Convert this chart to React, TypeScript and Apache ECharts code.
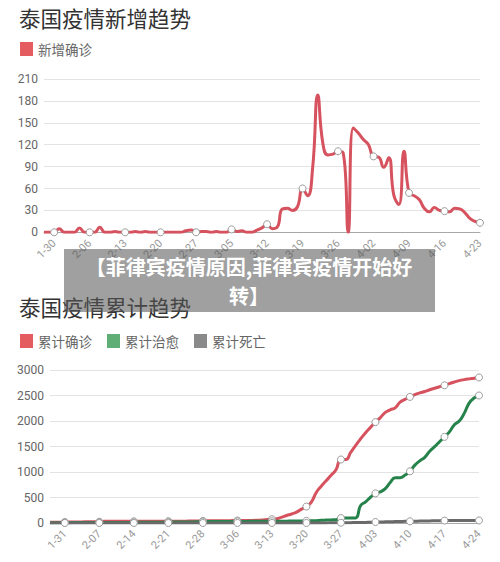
import React, { useEffect, useRef } from "react";
import * as echarts from "echarts";

// ---------- Data ----------
const datesNew = [
  "1-28","1-29","1-30","1-31",
  "2-01","2-02","2-03","2-04","2-05","2-06","2-07","2-08","2-09","2-10","2-11","2-12","2-13","2-14","2-15","2-16","2-17","2-18","2-19","2-20","2-21","2-22","2-23","2-24","2-25","2-26","2-27","2-28","2-29",
  "3-01","3-02","3-03","3-04","3-05","3-06","3-07","3-08","3-09","3-10","3-11","3-12","3-13","3-14","3-15","3-16","3-17","3-18","3-19","3-20","3-21","3-22","3-23","3-24","3-25","3-26","3-27","3-28","3-29","3-30","3-31",
  "4-01","4-02","4-03","4-04","4-05","4-06","4-07","4-08","4-09","4-10","4-11","4-12","4-13","4-14","4-15","4-16","4-17","4-18","4-19","4-20","4-21","4-22","4-23",
];

const newConfirmed = [
  0, 0, 0, 5,
  0, 0, 0, 6, 0, 0, 0, 7, 0, 0, 1, 0, 0, 0, 1, 0, 1, 0, 0, 0, 0, 0, 0, 0, 2, 3, 0, 1, 1,
  0, 1, 0, 0, 4, 1, 2, 0, 0, 3, 6, 11, 5, 7, 32, 33, 30, 35, 60, 50, 89, 188, 122, 106, 107, 111, 109, 0, 143, 136, 127,
  120, 104, 103, 89, 102, 51, 38, 111, 54, 50, 45, 33, 28, 34, 30, 29, 28, 33, 32, 27, 19, 15, 13,
];

const datesTotal = [
  "1-28","1-29","1-30","1-31",
  "2-01","2-02","2-03","2-04","2-05","2-06","2-07","2-08","2-09","2-10","2-11","2-12","2-13","2-14","2-15","2-16","2-17","2-18","2-19","2-20","2-21","2-22","2-23","2-24","2-25","2-26","2-27","2-28","2-29",
  "3-01","3-02","3-03","3-04","3-05","3-06","3-07","3-08","3-09","3-10","3-11","3-12","3-13","3-14","3-15","3-16","3-17","3-18","3-19","3-20","3-21","3-22","3-23","3-24","3-25","3-26","3-27","3-28","3-29","3-30","3-31",
  "4-01","4-02","4-03","4-04","4-05","4-06","4-07","4-08","4-09","4-10","4-11","4-12","4-13","4-14","4-15","4-16","4-17","4-18","4-19","4-20","4-21","4-22","4-23","4-24",
];

const totalConfirmed = [
  14, 14, 14, 19,
  19, 19, 19, 25, 25, 25, 25, 32, 32, 32, 33, 33, 33, 33, 34, 34, 35, 35, 35, 35, 35, 35, 35, 35, 37, 40, 40, 41, 42,
  42, 43, 43, 43, 47, 48, 50, 50, 50, 53, 59, 70, 75, 82, 114, 147, 177, 212, 272, 322, 411, 599, 721, 827, 934, 1045, 1245, 1245, 1388, 1524, 1651,
  1771, 1875, 1978, 2067, 2169, 2220, 2258, 2369, 2423, 2473, 2518, 2551, 2579, 2613, 2643, 2672, 2700, 2733, 2765, 2792, 2811, 2826, 2839, 2854,
];

const totalRecovered = [
  5, 5, 5, 7,
  7, 8, 8, 9, 9, 9, 9, 10, 10, 10, 10, 10, 12, 12, 14, 14, 15, 15, 17, 17, 17, 21, 21, 21, 22, 22, 24, 28, 28,
  31, 31, 31, 31, 31, 31, 31, 31, 33, 33, 34, 35, 35, 35, 35, 35, 41, 41, 41, 42, 42, 44, 52, 57, 61, 65, 97, 97, 97, 100, 342,
  416, 505, 581, 612, 674, 793, 888, 888, 940, 1013, 1135, 1218, 1288, 1405, 1497, 1593, 1689, 1787, 1928, 1999, 2150, 2350, 2450, 2500,
];

const totalDeaths = [
  0, 0, 0, 0,
  0, 0, 0, 0, 0, 0, 0, 0, 0, 0, 0, 0, 0, 0, 0, 0, 0, 0, 0, 0, 0, 0, 0, 0, 0, 0, 0, 0, 1,
  1, 1, 1, 1, 1, 1, 1, 1, 1, 1, 1, 1, 1, 1, 1, 1, 1, 1, 1, 1, 1, 1, 1, 1, 4, 4, 5, 6, 7, 9, 10,
  12, 15, 19, 20, 23, 26, 27, 30, 32, 33, 35, 38, 40, 41, 43, 46, 47, 47, 47, 47, 47, 47, 49, 50,
];

const yTicksNew = { min: 0, max: 210, interval: 30 };
const yTicksTotal = { min: 0, max: 3000, interval: 500 };

const title1 = "泰国疫情新增趋势";
const title2 = "泰国疫情累计趋势";
const bannerLine1 = "【菲律宾疫情原因,菲律宾疫情开始好";
const bannerLine2 = "转】";

// ---------- Styles ----------
const FONT = "'Noto Sans CJK SC', Roboto, sans-serif";
const RED = "#d6525e";
const RED_LEGEND = "#e55c60";
const GREEN = "#25824a";
const GREEN_LEGEND = "#5fae75";
const GRAY = "#6a6a6a";
const GRAY_LEGEND = "#8a8a8a";

function withSymbols(values: number[], offset: number) {
  return values.map((v, i) => ({
    value: v,
    symbol: (i - offset) % 7 === 0 && i >= offset ? "circle" : "none",
  }));
}

function lineSeries(name: string, values: number[], offset: number, color: string, xi: number) {
  return {
    name,
    type: "line",
    xAxisIndex: xi,
    yAxisIndex: xi,
    smooth: 0.5,
    showSymbol: true,
    showAllSymbol: true,
    symbolSize: 7,
    data: withSymbols(values, offset),
    lineStyle: { color, width: 3 },
    itemStyle: { color: "#ffffff", borderColor: "#9a9a9a", borderWidth: 1 },
    emphasis: { disabled: true },
  };
}

export default function App() {
  const ref = useRef<HTMLDivElement>(null);

  useEffect(() => {
    if (!ref.current) return;
    const chart = echarts.init(ref.current, undefined, { renderer: "svg" });

    const xAxisCommon = {
      type: "category",
      boundaryGap: false,
      axisLine: { lineStyle: { color: "#a8a8a8", width: 1 } },
      axisTick: { show: false },
      splitLine: { show: false },
    };
    const yAxisCommon = {
      type: "value",
      axisLine: { show: false },
      axisTick: { show: false },
      splitLine: { lineStyle: { color: "#e3e3e3", width: 1 } },
      axisLabel: {
        color: "#666",
        fontSize: 12,
        margin: 6,
        fontFamily: "Roboto, sans-serif",
        formatter: (v: number) => String(v),
      },
    };

    const labelCommon = {
      rotate: 45,
      color: "#999",
      fontSize: 11,
      margin: 9,
      fontFamily: "Roboto, sans-serif",
    };

    const legendCommon = {
      icon: "rect",
      itemWidth: 13,
      itemHeight: 14,
      itemGap: 15,
      padding: 0,
      selectedMode: false,
      textStyle: { fontSize: 13.5, color: "#666", fontFamily: FONT },
    };

    chart.setOption({
      animation: false,
      backgroundColor: "#ffffff",
      textStyle: { fontFamily: FONT },
      title: [
        {
          text: title1,
          left: 19,
          top: 7,
          padding: 0,
          textStyle: { fontSize: 21.5, fontWeight: "normal", color: "#333", fontFamily: FONT },
        },
        {
          text: title2,
          left: 19,
          top: 296,
          padding: 0,
          textStyle: { fontSize: 21.5, fontWeight: "normal", color: "#333", fontFamily: FONT },
        },
      ],
      legend: [
        {
          ...legendCommon,
          left: 20,
          top: 42,
          data: [{ name: "新增确诊", itemStyle: { color: RED_LEGEND, borderWidth: 0 } }],
        },
        {
          ...legendCommon,
          left: 20,
          top: 334,
          data: [
            { name: "累计确诊", itemStyle: { color: RED_LEGEND, borderWidth: 0 } },
            { name: "累计治愈", itemStyle: { color: GREEN_LEGEND, borderWidth: 0 } },
            { name: "累计死亡", itemStyle: { color: GRAY_LEGEND, borderWidth: 0 } },
          ],
        },
      ],
      grid: [
        { left: 44, top: 79, width: 436, height: 153.3 },
        { left: 50, top: 370, width: 429, height: 153 },
      ],
      xAxis: [
        {
          ...xAxisCommon,
          gridIndex: 0,
          data: datesNew,
          axisLabel: { ...labelCommon, interval: (i: number) => (i - 2) % 7 === 0 },
        },
        {
          ...xAxisCommon,
          gridIndex: 1,
          data: datesTotal,
          axisLabel: { ...labelCommon, interval: (i: number) => (i - 3) % 7 === 0 },
        },
      ],
      yAxis: [
        { ...yAxisCommon, gridIndex: 0, ...yTicksNew },
        { ...yAxisCommon, gridIndex: 1, ...yTicksTotal },
      ],
      series: [
        lineSeries("新增确诊", newConfirmed, 2, RED, 0),
        lineSeries("累计确诊", totalConfirmed, 3, RED, 1),
        lineSeries("累计治愈", totalRecovered, 3, GREEN, 1),
        lineSeries("累计死亡", totalDeaths, 3, GRAY, 1),
      ],
      graphic: [
        {
          type: "rect",
          z: 100,
          shape: { x: 64, y: 249, width: 371, height: 63 },
          style: { fill: "rgba(85,85,85,0.56)" },
        },
        {
          type: "text",
          z: 101,
          x: 249,
          y: 266.5,
          style: {
            text: bannerLine1,
            fill: "#ffffff",
            fontSize: 20,
            fontWeight: "bold",
            fontFamily: FONT,
            textAlign: "center",
            textVerticalAlign: "middle",
          },
        },
        {
          type: "text",
          z: 101,
          x: 249,
          y: 295.5,
          style: {
            text: bannerLine2,
            fill: "#ffffff",
            fontSize: 20,
            fontWeight: "bold",
            fontFamily: FONT,
            textAlign: "center",
            textVerticalAlign: "middle",
          },
        },
      ],
    });

    return () => chart.dispose();
  }, []);

  return (
    <div
      ref={ref}
      style={{ position: "fixed", left: 0, top: 0, width: 500, height: 562, background: "#fff" }}
    />
  );
}
